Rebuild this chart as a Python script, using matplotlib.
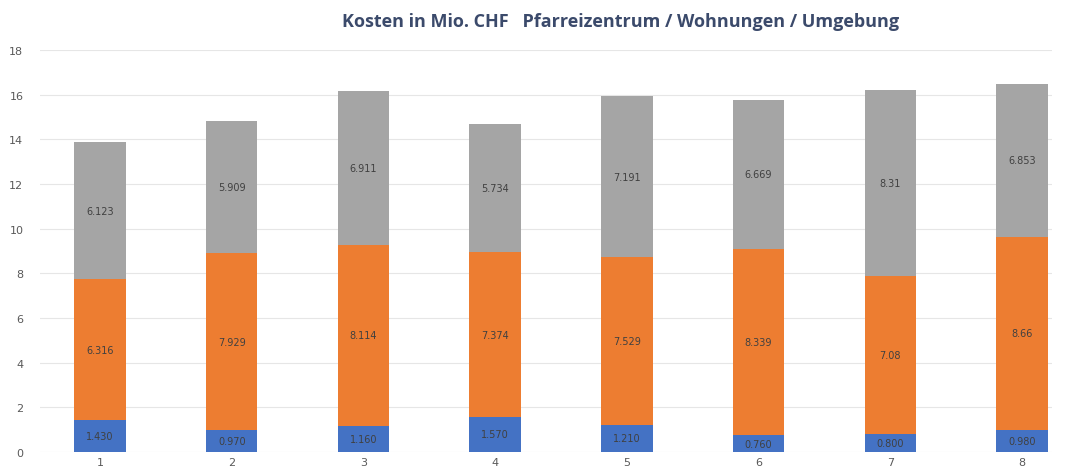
import matplotlib.pyplot as plt
import numpy as np

# Kosten in Mio. CHF, Varianten 1-8
varianten = ["1", "2", "3", "4", "5", "6", "7", "8"]
umgebung = [1.43, 0.97, 1.16, 1.57, 1.21, 0.76, 0.80, 0.98]
wohnungen = [6.316, 7.929, 8.114, 7.374, 7.529, 8.339, 7.08, 8.66]
pfarreizentrum = [6.123, 5.909, 6.911, 5.734, 7.191, 6.669, 8.31, 6.853]

umgebung_lbl = ["1.430", "0.970", "1.160", "1.570", "1.210", "0.760", "0.800", "0.980"]
wohnungen_lbl = ["6.316", "7.929", "8.114", "7.374", "7.529", "8.339", "7.08", "8.66"]
pfarr_lbl = ["6.123", "5.909", "6.911", "5.734", "7.191", "6.669", "8.31", "6.853"]

fig = plt.figure(figsize=(10.7, 4.77), dpi=100)
ax = fig.add_axes([40/1070, 24/477, 1012/1070, 402/477])

x = np.arange(1, len(varianten) + 1)
w = 0.39
b1 = ax.bar(x, umgebung, w, color="#4472C4", zorder=2)
b2 = ax.bar(x, wohnungen, w, bottom=umgebung, color="#ED7D31", zorder=2)
bot3 = np.array(umgebung) + np.array(wohnungen)
b3 = ax.bar(x, pfarreizentrum, w, bottom=bot3, color="#A5A5A5", zorder=2)

for bars, lbls in ((b1, umgebung_lbl), (b2, wohnungen_lbl), (b3, pfarr_lbl)):
    ax.bar_label(bars, labels=lbls, label_type="center", fontsize=7, color="#404040")

ax.set_xlim(0.544, 8.228)
ax.set_ylim(0, 18)
ax.set_yticks(range(0, 19, 2))
ax.set_xticks(x)
ax.set_xticklabels(varianten)
ax.tick_params(length=0, labelsize=8, labelcolor="#595959")
ax.tick_params(axis="y", pad=12)
ax.grid(axis="y", color="#E6E6E6", linewidth=0.8, zorder=0)
for s in ax.spines.values():
    s.set_visible(False)

fig.text(621/1070, 1 - 22/477, "Kosten in Mio. CHF   Pfarreizentrum / Wohnungen / Umgebung",
         ha="center", va="center", fontsize=13, fontweight="bold", color="#3B4A6B",
         family="Open Sans")

fig.savefig("out.png", dpi=100)
